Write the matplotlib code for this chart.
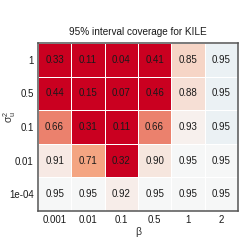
import numpy as np
import matplotlib
matplotlib.use("Agg")
import matplotlib.pyplot as plt
from matplotlib.colors import LinearSegmentedColormap, TwoSlopeNorm

# axis categories
beta_labels = ["0.001", "0.01", "0.1", "0.5", "1", "2"]
sigma_labels = ["1", "0.5", "0.1", "0.01", "1e-04"]  # top to bottom

# coverage, one row per sigma_u^2 value
row_1 = [0.33, 0.11, 0.04, 0.41, 0.85, 0.953]
row_05 = [0.44, 0.15, 0.07, 0.46, 0.88, 0.953]
row_01 = [0.66, 0.31, 0.11, 0.66, 0.93, 0.953]
row_001 = [0.91, 0.71, 0.32, 0.90, 0.95, 0.95]
row_1e4 = [0.95, 0.95, 0.92, 0.95, 0.95, 0.95]

plt.rcParams["font.family"] = ["Liberation Sans", "DejaVu Sans"]

cov = np.array([row_1, row_05, row_01, row_001, row_1e4])
nr, nc = cov.shape

cmap = LinearSegmentedColormap.from_list(
    "rdbu5", ["#CA0020", "#F4A582", "#F7F7F7", "#92C5DE", "#0571B0"])
norm = TwoSlopeNorm(vmin=0.47, vcenter=0.95, vmax=1.0)

fig = plt.figure(figsize=(2.43, 2.42), dpi=100)
ax = fig.add_axes([0.156, 0.128, 0.823, 0.694])

ax.pcolormesh(np.arange(nc + 1), np.arange(nr + 1), cov[::-1], cmap=cmap, norm=norm,
              edgecolor="white", linewidth=0.5)

for i in range(nr):
    for j in range(nc):
        ax.text(j + 0.5, nr - i - 0.5, "%.2f" % cov[i, j], ha="center", va="center",
                fontsize=7, color="#1a1a1a")

ax.set_xlim(0, nc)
ax.set_ylim(0, nr)
ax.set_xticks(np.arange(nc) + 0.5)
ax.set_xticklabels(beta_labels)
ax.set_yticks(np.arange(nr) + 0.5)
ax.set_yticklabels(sigma_labels[::-1])
ax.tick_params(length=0, labelsize=7, colors="#1a1a1a", pad=3)

for s in ax.spines.values():
    s.set_color("#555555")
    s.set_linewidth(1.1)

ax.set_title("95% interval coverage for KILE", fontsize=7.2, color="#1a1a1a", pad=6)
ax.set_xlabel("β", fontsize=7.5, color="#333333")
ax.set_ylabel(r"$\mathregular{σ_u^2}$", fontsize=7.5, color="#333333")
ax.xaxis.set_label_coords(0.5, -0.095)
ax.yaxis.set_label_coords(-0.1, 0.56)

fig.savefig("out.png", dpi=100)
